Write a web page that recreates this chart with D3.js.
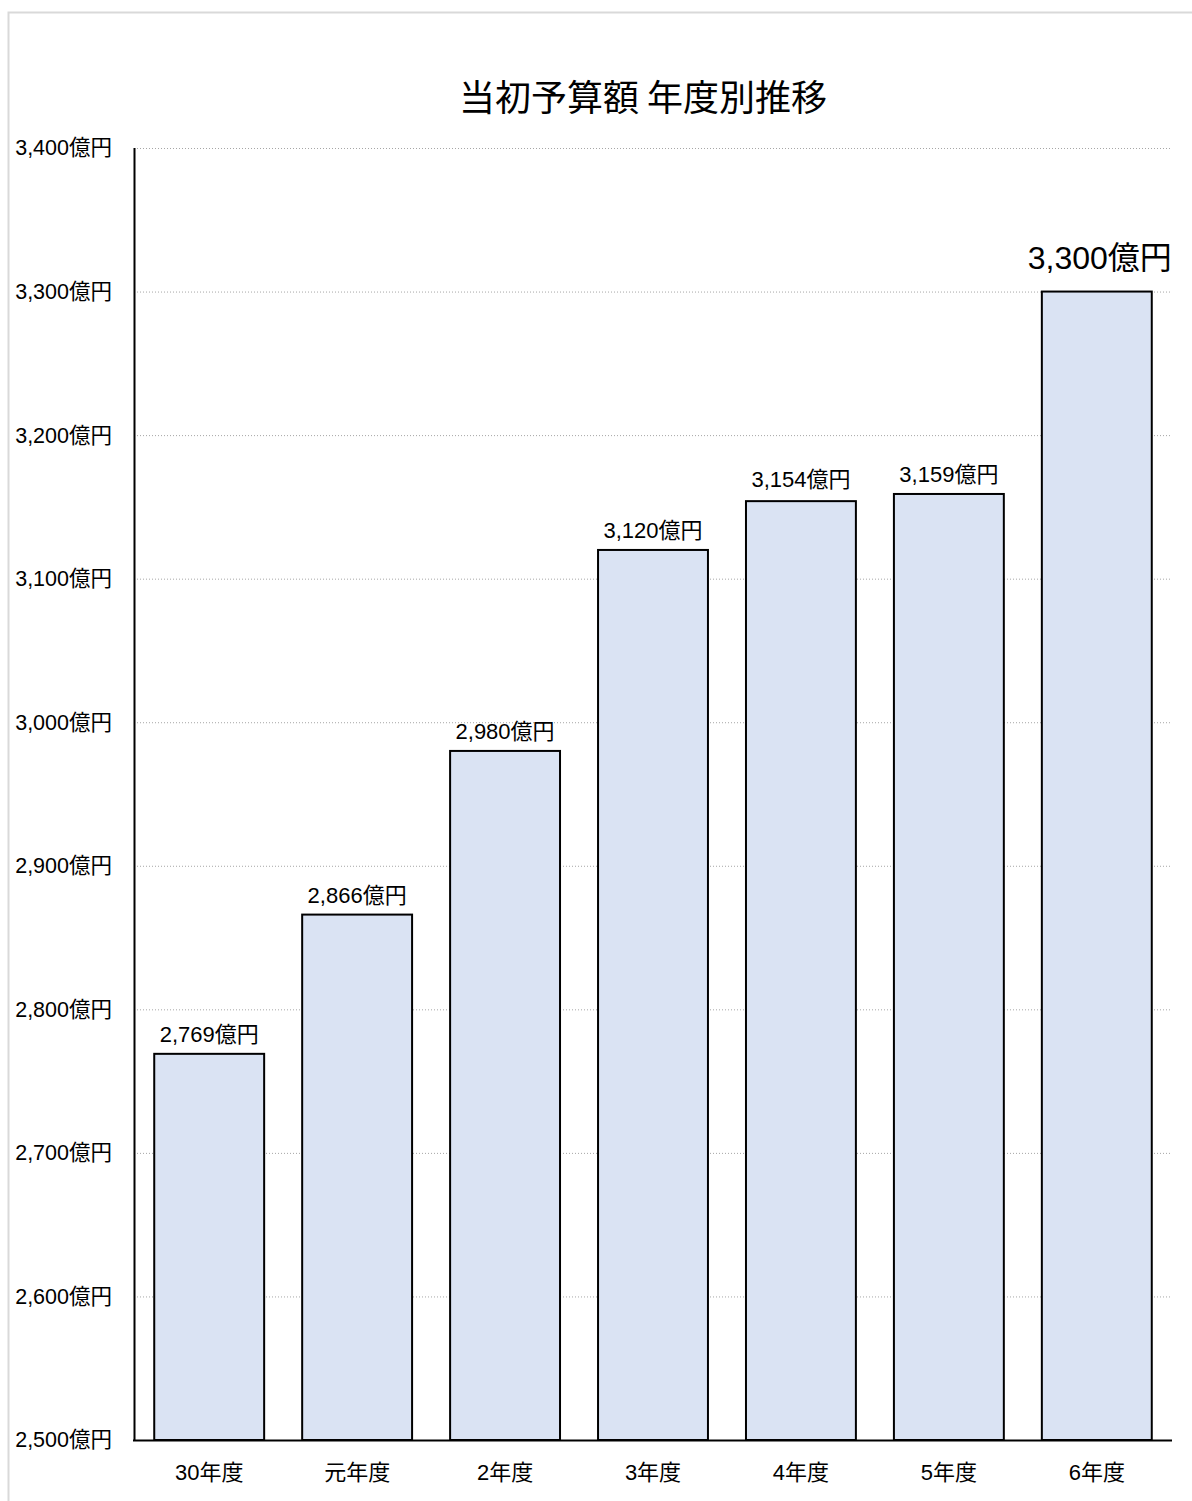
<!DOCTYPE html>
<html>
<head>
<meta charset="utf-8">
<script src="https://cdn.jsdelivr.net/npm/d3@7"></script>
<style>
	body { margin: 0; background: #fff; }
	text { font-family: "Liberation Sans", "Noto Sans CJK JP", sans-serif; fill: #000; }
</style>
</head>
<body>
<svg class="chart"></svg>
<script>
// data
var years = ["30年度", "元年度", "2年度", "3年度", "4年度", "5年度", "6年度"];
var budgets = [2769, 2866, 2980, 3120, 3154, 3159, 3300];
var yTicks = [2500, 2600, 2700, 2800, 2900, 3000, 3100, 3200, 3300, 3400];

var width = 1192, height = 1501;
var fmt = d3.format(",");
var fontStack = "'Liberation Sans', 'Noto Sans CJK JP', sans-serif";

var svg = d3.select("svg.chart")
	.attr("width", width)
	.attr("height", height);

// outer frame
svg.append("rect")
	.attr("x", 8.5).attr("y", 12.5)
	.attr("width", 1200).attr("height", 1500)
	.attr("fill", "none")
	.attr("stroke", "#d9d9d9")
	.attr("stroke-width", 2);

// scales
var x = d3.scaleBand()
	.domain(years)
	.range([135, 1171])
	.paddingInner(0.257)
	.paddingOuter(0.13);

var y = d3.scaleLinear()
	.domain([2500, 3400])
	.range([1440, 148]);

// title
svg.append("text")
	.attr("x", 643).attr("y", 111)
	.attr("text-anchor", "middle")
	.style("font-family", "'Noto Sans CJK JP', sans-serif")
	.style("font-size", "36px")
	.text("当初予算額 年度別推移");

// gridlines
svg.append("g")
	.selectAll("line")
	.data(yTicks.slice(1))
	.enter().append("line")
	.attr("x1", 134).attr("x2", 1172)
	.attr("y1", function(d) { return y(d) + 0.5; })
	.attr("y2", function(d) { return y(d) + 0.5; })
	.attr("stroke", "#a6a6a6")
	.attr("stroke-width", 1)
	.attr("stroke-dasharray", "1,2");

// y axis labels
var yAxis = d3.axisLeft(y)
	.tickValues(yTicks)
	.tickSize(0)
	.tickPadding(22)
	.tickFormat(function(d) { return fmt(d) + "億円"; });
var yg = svg.append("g")
	.attr("transform", "translate(134,0)")
	.call(yAxis);
yg.select(".domain").remove();
yg.selectAll("text")
	.style("font-family", fontStack)
	.style("font-size", "21.5px")
	.attr("fill", "#000");

// bars
svg.append("g")
	.selectAll("rect")
	.data(budgets)
	.enter().append("rect")
	.attr("x", function(d, i) { return x(years[i]); })
	.attr("y", function(d) { return y(d); })
	.attr("width", x.bandwidth())
	.attr("height", function(d) { return y(2500) - y(d); })
	.attr("fill", "#dae3f3")
	.attr("stroke", "#000")
	.attr("stroke-width", 2);

// value labels
svg.append("g")
	.selectAll("text")
	.data(budgets)
	.enter().append("text")
	.attr("x", function(d, i) { return x(years[i]) + x.bandwidth() / 2 + (i == 6 ? 3 : 0); })
	.attr("y", function(d, i) { return y(d) - (i == 6 ? 23 : (i == 4 ? 14 : 12)); })
	.attr("text-anchor", "middle")
	.style("font-size", function(d, i) { return i == 6 ? "32px" : "22px"; })
	.text(function(d) { return fmt(d) + "億円"; });

// axis lines
svg.append("line")
	.attr("x1", 134.5).attr("x2", 134.5)
	.attr("y1", 148).attr("y2", 1441)
	.attr("stroke", "#000").attr("stroke-width", 2);
svg.append("line")
	.attr("x1", 133).attr("x2", 1172)
	.attr("y1", 1440.5).attr("y2", 1440.5)
	.attr("stroke", "#000").attr("stroke-width", 2);

// x labels
var xAxis = d3.axisBottom(x).tickSize(0).tickPadding(24);
var xg = svg.append("g")
	.attr("transform", "translate(0,1440)")
	.call(xAxis);
xg.select(".domain").remove();
xg.selectAll("text")
	.style("font-family", fontStack)
	.style("font-size", "22px")
	.attr("fill", "#000");
</script>
</body>
</html>
